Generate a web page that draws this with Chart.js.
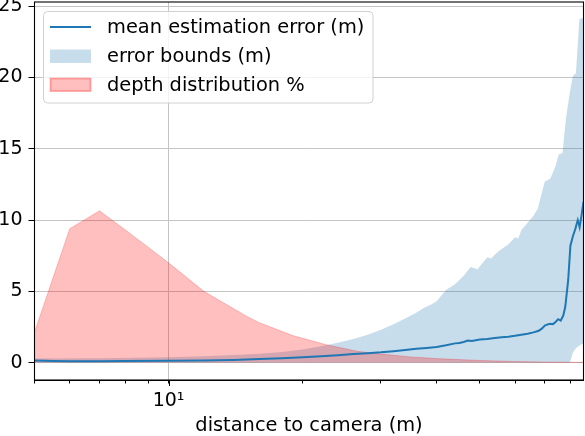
<!DOCTYPE html>
<html>
<head>
<meta charset="utf-8">
<script src="https://cdn.jsdelivr.net/npm/chart.js@4/dist/chart.umd.min.js"></script>
<style>
html,body{margin:0;padding:0;background:#fff;}
canvas{display:block;}
</style>
</head>
<body>
<canvas id="c" width="585" height="436"></canvas>
<script>
// ---- data ----
const meanX = [5,5.5,6,7,8,10,12,14,16,18,20,22,24,26,28,30,32,34,36,38,40,42,44,45,46,47,48,50,52,54,56,58,60,62,64,66,67,68,69,70,71,72,73,74,75,76,77,77.8,79,79.9,81,82,83,83.8,84.6,85.5];
const meanY = [0.15,0.12,0.1,0.1,0.11,0.13,0.15,0.19,0.25,0.31,0.38,0.45,0.52,0.6,0.66,0.72,0.8,0.88,0.97,1.03,1.1,1.22,1.35,1.38,1.45,1.55,1.52,1.62,1.66,1.72,1.78,1.82,1.88,1.95,2.02,2.12,2.18,2.25,2.4,2.6,2.68,2.72,2.7,2.85,3.05,2.95,3.3,3.9,5.8,8.2,8.9,9.4,10.0,9.5,10.3,11.3];

const boundX = [5,7,10,12,14,16,18,20,22,24,26,28,30,32,34,36,37.5,39,40,42,44,46,47.7,49.4,52,53,55,58,60,61,62,64,66,67.5,68.5,70,72,74,75.2,76.7,78,79.7,80.9,82.2,83.7,85.5];
const boundUpper = [0.28,0.3,0.38,0.45,0.53,0.62,0.75,0.92,1.15,1.4,1.65,1.95,2.3,2.7,3.1,3.5,3.85,4.1,4.3,5.1,5.5,6.1,6.7,6.55,7.4,7.3,7.8,8.3,8.8,8.7,9.3,9.8,10.3,10.8,11.6,12.7,12.9,13.8,14.6,14.7,17.0,19.0,20.1,20.3,24.1,24.2];
const boundLower = [0,0,0,0,0,0,0,0,0,0,0,0,0,0,0,0,0,0,0,0,0,0,0,0,0,0,0,0,0,0,0,0,0,0,0,0,0,0,0,0,0,0,0.7,1.0,1.2,1.35];

const depthX = [5,6,7,8,9,10,12,15,16,19,22.5,26.5,30,35,40,50,60,70,85.5];
const depthPct = [2.13,9.4,10.65,9.3,8.1,7.0,5.0,3.24,2.8,1.9,1.27,0.8,0.6,0.4,0.28,0.15,0.08,0.04,0.02];

const xTickValues = [5,6,7,8,9,10,20,30,40,50,60,70,80];
const xTickLabels = ['','','','','','10\u00b9','','','','','','',''];

const legendLabels = ['mean estimation error (m)','error bounds (m)','depth distribution %'];
const axisTitle = 'distance to camera (m)';

// ---- chart ----
const FONT = 'DejaVu Sans';
Chart.defaults.font.family = FONT;
Chart.defaults.font.size = 19;
Chart.defaults.color = '#000';

const pts = (xs, ys) => xs.map((x, i) => ({x: x, y: ys[i]}));

const frameAndLegend = {
  id: 'frameAndLegend',
  afterDraw(chart) {
    const ctx = chart.ctx;
    const a = chart.chartArea;
    const xs = chart.scales.x;
    ctx.save();
    ctx.strokeStyle = '#000';
    ctx.lineWidth = 1;
    const px = Math.round(xs.getPixelForValue(10)) + 0.5;
    ctx.beginPath();
    ctx.moveTo(px, a.bottom);
    ctx.lineTo(px, a.bottom + 6);
    ctx.stroke();
    ctx.lineWidth = 1.1;
    ctx.strokeRect(a.left, a.top, a.right - a.left, a.bottom - a.top);
    const bx = 43.5, by = 11.5, bw = 329.5, bh = 91.5, r = 4;
    ctx.beginPath();
    ctx.moveTo(bx + r, by);
    ctx.arcTo(bx + bw, by, bx + bw, by + bh, r);
    ctx.arcTo(bx + bw, by + bh, bx, by + bh, r);
    ctx.arcTo(bx, by + bh, bx, by, r);
    ctx.arcTo(bx, by, bx + bw, by, r);
    ctx.closePath();
    ctx.fillStyle = 'rgba(255,255,255,0.8)';
    ctx.fill();
    ctx.strokeStyle = '#d0d0d0';
    ctx.lineWidth = 1;
    ctx.stroke();
    const ds = chart.data.datasets;
    const rows = [27, 56, 84.5];
    ctx.strokeStyle = ds[0].borderColor;
    ctx.lineWidth = 2;
    ctx.beginPath();
    ctx.moveTo(50, rows[0]);
    ctx.lineTo(91, rows[0]);
    ctx.stroke();
    ctx.fillStyle = ds[1].backgroundColor;
    ctx.fillRect(50, rows[1] - 6.5, 41, 13.5);
    ctx.fillStyle = ds[3].backgroundColor;
    ctx.fillRect(50, rows[2] - 6.5, 41, 13.5);
    ctx.strokeStyle = ds[3].borderColor;
    ctx.strokeRect(50.5, rows[2] - 6, 40, 12.5);
    ctx.fillStyle = '#000';
    ctx.font = '19.4px "' + FONT + '"';
    ctx.textBaseline = 'middle';
    ctx.textAlign = 'left';
    legendLabels.forEach((t, i) => ctx.fillText(t, 107, rows[i] + 1));
    ctx.restore();
  }
};

new Chart(document.getElementById('c'), {
  type: 'line',
  data: {
    datasets: [
      {
        label: legendLabels[0],
        data: pts(meanX, meanY),
        borderColor: '#1f77b4',
        borderWidth: 2,
        pointRadius: 0,
        fill: false,
        order: 0
      },
      {
        label: legendLabels[1],
        data: pts(boundX, boundUpper),
        borderColor: 'rgba(0,0,0,0)',
        borderWidth: 0,
        backgroundColor: 'rgba(31,119,180,0.25)',
        pointRadius: 0,
        fill: '+1',
        order: 2
      },
      {
        label: 'lower',
        data: pts(boundX, boundLower),
        borderColor: 'rgba(0,0,0,0)',
        borderWidth: 0,
        pointRadius: 0,
        fill: false,
        order: 3
      },
      {
        label: legendLabels[2],
        data: pts(depthX, depthPct),
        borderColor: 'rgba(255,0,0,0.22)',
        borderWidth: 1,
        backgroundColor: 'rgba(255,0,0,0.25)',
        pointRadius: 0,
        fill: 'origin',
        order: 1
      }
    ]
  },
  options: {
    responsive: false,
    animation: false,
    devicePixelRatio: 1,
    events: [],
    layout: {padding: {top: 2, right: 1.5, left: 0, bottom: 0}},
    plugins: {legend: {display: false}, tooltip: {enabled: false}},
    elements: {line: {tension: 0}},
    scales: {
      x: {
        type: 'logarithmic',
        min: 5,
        max: 85.5,
        afterBuildTicks: (s) => { s.ticks = xTickValues.map(v => ({value: v})); },
        afterFit: (s) => { s.height = 56; s.paddingLeft = 0; s.paddingRight = 0; },
        ticks: {
          autoSkip: false,
          maxRotation: 0,
          padding: 6,
          color: '#000',
          callback: (v, i) => xTickLabels[i]
        },
        grid: {
          color: (c) => (c.tick && c.tick.value === 10) ? '#c4c4c4' : 'rgba(0,0,0,0)',
          tickColor: '#000',
          tickLength: 3.5,
          lineWidth: 1
        },
        border: {display: true, color: '#000'},
        title: {display: true, text: axisTitle, color: '#000', font: {size: 19.4}, padding: {top: 0, bottom: -2}}
      },
      y: {
        type: 'linear',
        min: -1.22,
        max: 25.3,
        afterFit: (s) => { s.width = 34.5; s.paddingTop = 0; s.paddingBottom = 0; },
        ticks: {stepSize: 5, includeBounds: false, padding: 6, color: '#000'},
        grid: {color: '#c4c4c4', tickColor: '#000', tickLength: 6, lineWidth: 1},
        border: {display: true, color: '#000'}
      }
    }
  },
  plugins: [frameAndLegend]
});
</script>
</body>
</html>
